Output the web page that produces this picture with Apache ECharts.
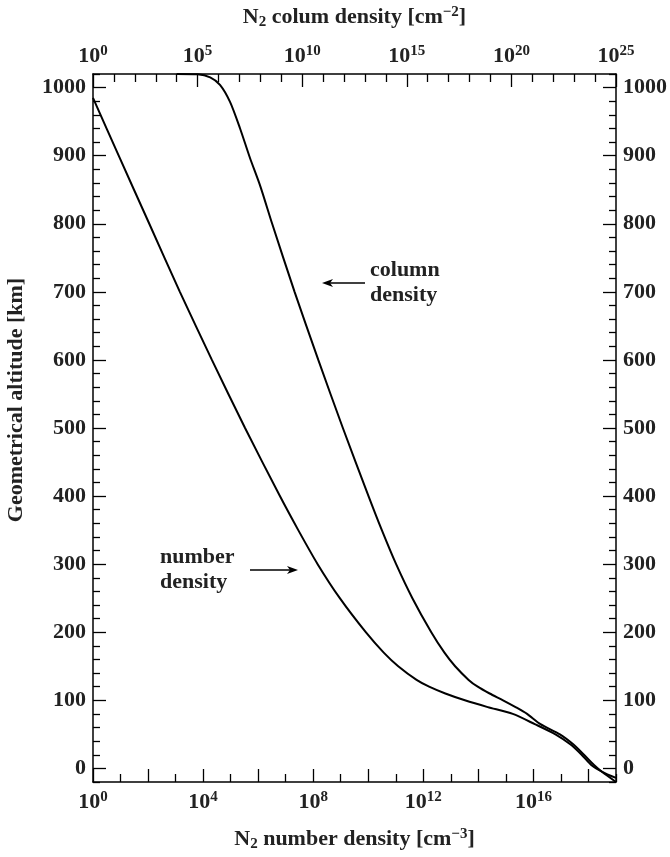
<!DOCTYPE html>
<html><head><meta charset="utf-8">
<script src="https://cdn.jsdelivr.net/npm/echarts@6/dist/echarts.min.js"></script>
<style>html,body{margin:0;padding:0;background:#fff}#c{width:670px;height:857px}</style>
</head><body><div id="c"></div>
<script>
// Number density curve: log10(n [cm^-3]) vs altitude [km]
const numberDensityLog10 = [0, 0.934, 2.045, 3.156, 4.319, 5.524, 6.79, 7.457, 8.161, 8.967, 9.91, 10.562, 11.088, 11.755, 12.21, 12.8, 13.51, 14.34, 15.25, 16.05, 16.8, 17.35, 17.75, 18.1, 18.5, 19.0];
const numberDensityAlt   = [985, 900, 800, 700, 600, 500, 400, 350, 300, 250, 200, 170, 150, 130, 120, 110, 100, 90, 80, 65, 50, 35, 20, 5, -5, -14];
// Column density curve: log10(N [cm^-2]) vs altitude [km]
const columnDensityLog10 = [4.0, 5.0, 5.6, 6.07, 6.55, 7.03, 7.5, 8.0, 8.565, 9.636, 10.769, 11.944, 13.17, 13.807, 14.49, 15.267, 16.17, 16.8, 17.31, 17.955, 18.39, 18.96, 19.6, 20.2, 20.75, 21.39, 22.32, 22.97, 23.47, 23.95, 24.33, 25.0];
const columnDensityAlt   = [1020, 1019.5, 1015, 1004, 979, 940, 897, 855, 800, 700, 600, 500, 400, 350, 300, 250, 200, 170, 150, 130, 120, 110, 100, 90, 80, 65, 50, 35, 20, 5, -5, -20];
// Tick definitions
const altMajorTicks = [0, 100, 200, 300, 400, 500, 600, 700, 800, 900, 1000];
const altMinorTicks = [];
for (let v = -20; v <= 1020; v += 20) if (v % 100 !== 0) altMinorTicks.push(v);
const bottomLabelExps = [0, 4, 8, 12, 16];
const bottomMajorTicks = [0, 2, 4, 6, 8, 10, 12, 14, 16, 18];
const bottomMinorTicks = [1, 3, 5, 7, 9, 11, 13, 15, 17, 19];
const topLabelExps = [0, 5, 10, 15, 20, 25];
const topMajorTicks = [0, 5, 10, 15, 20, 25];
const topMinorTicks = [];
for (let v = 1; v < 25; v++) if (v % 5 !== 0) topMinorTicks.push(v);

const FONT = 'Liberation Serif';
const FS = 22;
const txt = '#222';
const rich = {
  b: {fontFamily: FONT, fontWeight: 'bold', fontSize: FS, color: txt, lineHeight: 22},
  s: {fontFamily: FONT, fontWeight: 'bold', fontSize: 15, color: txt, padding: [0, 0, 10, 0], lineHeight: 15}
};
const powLabel = v => '{b|10}{s|' + v + '}';
const axisLineStyle = {color: '#000', width: 1.5};

function mkX(pos, min, max, ticks, len, labels, showLine, name) {
  const ax = {
    type: 'value', position: pos, min: min, max: max, gridIndex: 0,
    axisLine: {show: showLine, lineStyle: axisLineStyle, onZero: false},
    axisTick: {show: true, inside: true, length: len, customValues: ticks, lineStyle: {color: '#000', width: 1.3}},
    axisLabel: labels ? {show: true, customValues: labels, formatter: powLabel, rich: rich, margin: pos === 'top' ? 7 : 9} : {show: false},
    splitLine: {show: false}
  };
  if (name) {
    ax.name = name; ax.nameLocation = 'middle';
    ax.nameGap = pos === 'top' ? 44 : 45;
    ax.nameTextStyle = {rich: {
      t: {fontFamily: FONT, fontWeight: 'bold', fontSize: FS, color: txt},
      sub: {fontFamily: FONT, fontWeight: 'bold', fontSize: 15, color: txt, padding: [10, 0, 0, 0]},
      sup: {fontFamily: FONT, fontWeight: 'bold', fontSize: 15, color: txt, padding: [0, 0, 10, 0]}
    }};
  }
  return ax;
}
function mkY(pos, ticks, len, labels, showLine) {
  return {
    type: 'value', position: pos, min: -20, max: 1020, gridIndex: 0,
    axisLine: {show: showLine, lineStyle: axisLineStyle, onZero: false},
    axisTick: {show: true, inside: true, length: len, customValues: ticks, lineStyle: {color: '#000', width: 1.3}},
    axisLabel: labels ? {show: true, customValues: labels, formatter: v => String(v), fontFamily: FONT, fontWeight: 'bold', fontSize: FS, color: txt, margin: 7} : {show: false},
    splitLine: {show: false}
  };
}

const chart = echarts.init(document.getElementById('c'), null, {renderer: 'canvas'});
const nd = numberDensityLog10.map((x, i) => [x, numberDensityAlt[i]]);
const cd = columnDensityLog10.map((x, i) => [x, columnDensityAlt[i]]);

chart.setOption({
  animation: false,
  backgroundColor: '#fff',
  grid: {left: 93, right: 54, top: 64, bottom: 63, containLabel: false},
  xAxis: [
    mkX('bottom', 0, 19, bottomMajorTicks, 13, bottomLabelExps, true, '{t|N}{sub|2}{t| number density [cm}{sup|−3}{t|]}'),
    mkX('bottom', 0, 19, bottomMinorTicks, 8, null, false),
    mkX('top', 0, 25, topMajorTicks, 13, topLabelExps, true, '{t|N}{sub|2}{t| colum density [cm}{sup|−2}{t|]}'),
    mkX('top', 0, 25, topMinorTicks, 8, null, false)
  ],
  yAxis: [
    mkY('left', altMajorTicks, 13, altMajorTicks, true),
    mkY('left', altMinorTicks, 7, null, false),
    mkY('right', altMajorTicks, 13, altMajorTicks, true),
    mkY('right', altMinorTicks, 7, null, false)
  ],
  series: [
    {type: 'line', name: 'number density', xAxisIndex: 0, yAxisIndex: 0, data: nd, showSymbol: false, smooth: 0.25,
     lineStyle: {color: '#000', width: 2}, clip: true},
    {type: 'line', name: 'column density', xAxisIndex: 2, yAxisIndex: 0, data: cd, showSymbol: false, smooth: 0.25,
     lineStyle: {color: '#000', width: 2}, clip: true}
  ],
  graphic: [
    {type: 'text', x: 16, y: 400, rotation: Math.PI / 2,
     style: {text: 'Geometrical altitude [km]', font: 'bold 22px "Liberation Serif"', fill: txt, align: 'center', verticalAlign: 'middle'}},
    {type: 'text', left: 370, top: 258, style: {text: 'column\ndensity', font: 'bold 22px "Liberation Serif"', fill: txt, lineHeight: 25}},
    {type: 'line', shape: {x1: 365, y1: 283, x2: 328, y2: 283}, style: {stroke: '#000', lineWidth: 1.5}},
    {type: 'polygon', shape: {points: [[322, 283], [333, 279], [330, 283], [333, 287]]}, style: {fill: '#000'}},
    {type: 'text', left: 160, top: 545, style: {text: 'number\ndensity', font: 'bold 22px "Liberation Serif"', fill: txt, lineHeight: 25}},
    {type: 'line', shape: {x1: 250, y1: 570, x2: 292, y2: 570}, style: {stroke: '#000', lineWidth: 1.5}},
    {type: 'polygon', shape: {points: [[298, 570], [287, 566], [290, 570], [287, 574]]}, style: {fill: '#000'}}
  ]
});
</script></body></html>
